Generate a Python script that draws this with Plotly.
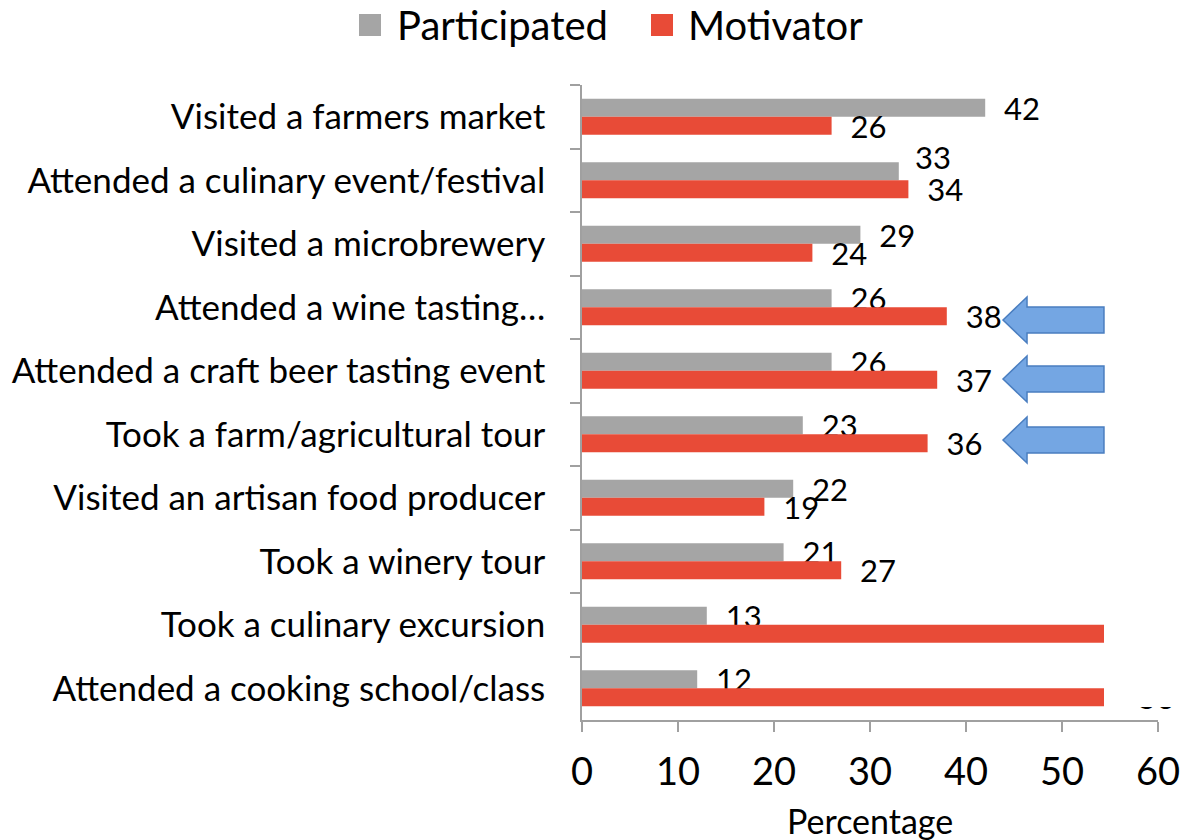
import plotly.graph_objects as go

categories = [
    "Visited a farmers market",
    "Attended a culinary event/festival",
    "Visited a microbrewery",
    "Attended a wine tasting…",
    "Attended a craft beer tasting event",
    "Took a farm/agricultural tour",
    "Visited an artisan food producer",
    "Took a winery tour",
    "Took a culinary excursion",
    "Attended a cooking school/class",
]
participated = [42, 33, 29, 26, 26, 23, 22, 21, 13, 12]
motivator = [26, 34, 24, 38, 37, 36, 19, 27, 56, 56]
series_names = ["Participated", "Motivator"]
x_title = "Percentage"

GRAY = "#A5A5A5"
RED = "#E84B37"
FONT = "Lato"
LIFTED = 1  # index of the Participated label lifted above its bar in the reference

W, H = 1184, 840
L, R, T, B = 582, 26, 85, 120
pw, ph = W - L - R, H - T - B

def px(x):
    return (x - L) / pw

def py(y):
    return (H - B - y) / ph

fig = go.Figure()
annotations = []
for k, (name, vals, col) in enumerate([(series_names[0], participated, GRAY),
                                        (series_names[1], motivator, RED)]):
    texts = [str(v) for v in vals]
    if k == 0:
        texts[LIFTED] = ""
    fig.add_trace(go.Bar(
        name=name, y=categories, x=vals, orientation="h",
        marker=dict(color=col, line=dict(width=0)),
        text=texts, texttemplate="\u00a0\u00a0%{text}",
        textposition="outside", constraintext="none", cliponaxis=False,
        textfont=dict(family=FONT, size=31, color="black"),
        showlegend=False,
    ))

annotations.append(dict(x=participated[LIFTED], y=categories[LIFTED], xref="x", yref="y",
                        xanchor="left", yanchor="middle", xshift=14, yshift=23,
                        showarrow=False, text=str(participated[LIFTED]),
                        font=dict(size=31, family=FONT, color="black")))

# x-axis title (placed lower than plotly's margin-constrained title allows)
annotations.append(dict(xref="paper", yref="paper", x=0.5, y=py(820),
                        xanchor="center", yanchor="middle", showarrow=False,
                        text=x_title, font=dict(size=34, family=FONT, color="black")))

shapes = []
# white mask box (covers bar ends on the right, as in the reference)
shapes.append(dict(type="rect", xref="paper", yref="paper", layer="above",
                   x0=px(1104), x1=px(1200), y0=py(707), y1=py(290),
                   fillcolor="white", line=dict(width=0)))
# blue block arrows
for tip_y in [320, 379, 440]:
    pts = [(1003, tip_y), (1027, tip_y - 23), (1027, tip_y - 13), (1104, tip_y - 13),
           (1104, tip_y + 13), (1027, tip_y + 13), (1027, tip_y + 23)]
    path = "M " + " L ".join(f"{px(a):.4f},{py(b):.4f}" for a, b in pts) + " Z"
    shapes.append(dict(type="path", xref="paper", yref="paper", layer="above",
                       path=path, fillcolor="#74A6E3", line=dict(color="#4A7EC0", width=1.5)))

# legend (large square swatches like the reference)
for (x0, tx, name, col) in [(359, 395, series_names[0], GRAY), (651, 686, series_names[1], RED)]:
    shapes.append(dict(type="rect", xref="paper", yref="paper",
                       x0=px(x0), x1=px(x0 + 22), y0=py(36), y1=py(14),
                       fillcolor=col, line=dict(width=0)))
    annotations.append(dict(xref="paper", yref="paper", x=px(tx), y=py(25),
                            xanchor="left", yanchor="middle", showarrow=False,
                            text=name, font=dict(size=40, family=FONT, color="black")))

fig.update_layout(
    width=W, height=H,
    margin=dict(l=L, r=R, t=T, b=B, autoexpand=False),
    barmode="group", bargap=0.43, bargroupgap=0,
    plot_bgcolor="white", paper_bgcolor="white",
    font=dict(family=FONT, color="black"),
    showlegend=False,
    shapes=shapes,
    annotations=annotations,
    xaxis=dict(range=[0, 60], dtick=10, showgrid=False, zeroline=False,
               showline=True, linecolor="#A0A0A0", linewidth=1.5,
               ticks="outside", ticklen=10, tickcolor="#A0A0A0", tickwidth=1.5,
               ticklabelstandoff=8,
               tickfont=dict(size=38, family=FONT, color="black")),
    yaxis=dict(autorange="reversed", showgrid=False, showline=True,
               linecolor="#A0A0A0", linewidth=1.5,
               ticks="outside", ticklen=10, tickcolor="#A0A0A0", tickwidth=1.5,
               tickson="boundaries", ticklabelstandoff=28,
               tickfont=dict(size=35, family=FONT, color="black")),
)

fig.write_html("out.html", config={"displayModeBar": False},
               post_script="document.body.style.margin='0px';")
